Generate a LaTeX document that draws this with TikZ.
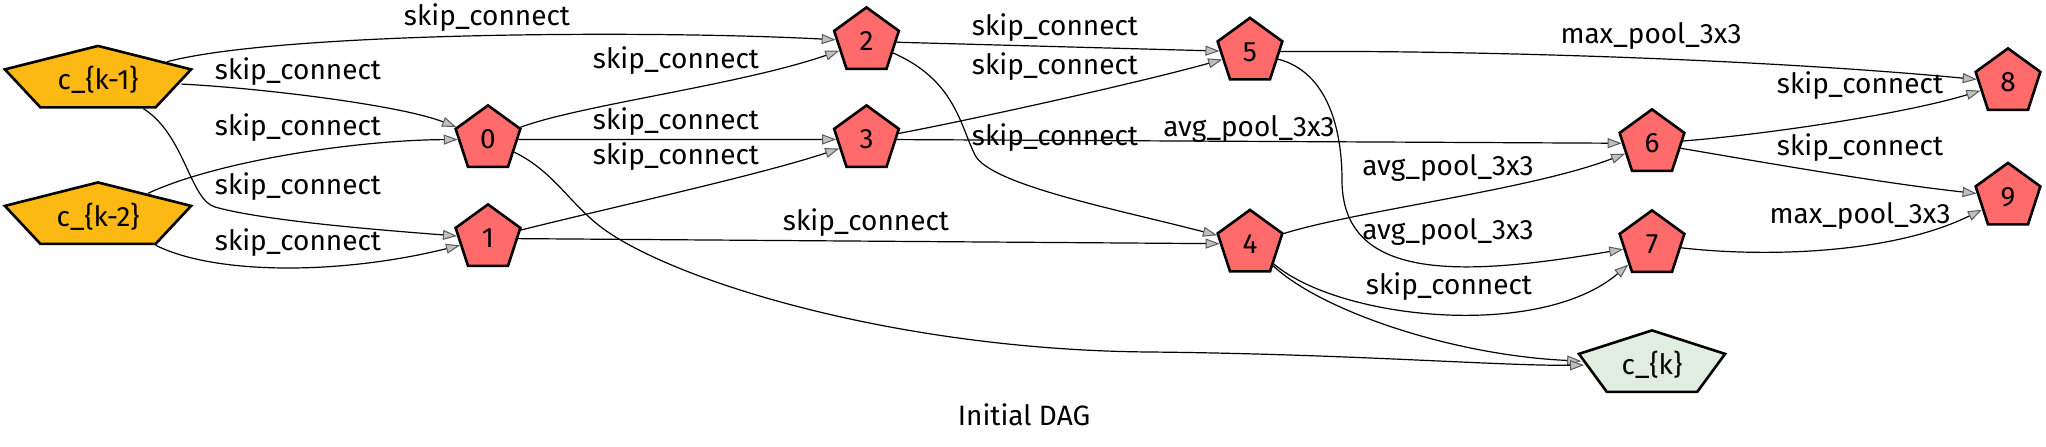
\documentclass[tikz,border=0pt]{standalone}
\usepackage{fontspec}
\setmainfont{Fira Sans}
\usepackage{graphicx}
\usetikzlibrary{shapes.geometric,arrows.meta}
\definecolor{opred}{RGB}{255,106,106}
\definecolor{inorange}{RGB}{253,185,19}
\definecolor{outgreen}{RGB}{224,238,224}
\definecolor{tipgray}{RGB}{192,192,192}
\begin{document}
\begin{tikzpicture}[x=0.5pt,y=-0.5pt,
  pent/.style={regular polygon, regular polygon sides=5, draw=black, line width=1.3pt, minimum size=34pt, inner sep=0pt, font=\fontsize{14}{16}\selectfont},
  opnode/.style={pent, fill=opred},
  innode/.style={pent, fill=inorange},
  outnode/.style={pent, fill=outgreen},
  conn/.style={draw=black, line width=0.6pt, -{Triangle[length=7pt,width=5pt,fill=tipgray,color=black!65,line width=0.5pt]}},
  lbl/.style={font=\fontsize{14}{16}\selectfont, inner sep=0pt},
]
\fill[white] (0,0) rectangle (2046,446);
\useasboundingbox (0,0) rectangle (2046,446);

% input nodes
\begin{scope}[shift={(98,79.9)}]
\node[innode, xscale=2.88, transform shape] (ck1) {\scalebox{0.347}[1]{c\_\{k-1\}}};
\end{scope}
\begin{scope}[shift={(98,216.4)}]
\node[innode, xscale=2.88, transform shape] (ck2) {\scalebox{0.347}[1]{c\_\{k-2\}}};
\end{scope}
\begin{scope}[shift={(1652,364.4)}]
\node[outnode, xscale=2.26, transform shape] (ck) {\scalebox{0.4425}[1]{c\_\{k\}}};
\end{scope}

% op nodes
\node[opnode] (n0) at (488,139.4) {0};
\node[opnode] (n1) at (488,238.4) {1};
\node[opnode] (n2) at (866.5,41.4) {2};
\node[opnode] (n3) at (866.5,139.4) {3};
\node[opnode] (n5) at (1250,51.9) {5};
\node[opnode] (n4) at (1250,243.9) {4};
\node[opnode] (n6) at (1652,143.4) {6};
\node[opnode] (n7) at (1652,244.4) {7};
\node[opnode] (n8) at (2008,82.4) {8};
\node[opnode] (n9) at (2008,196.9) {9};

% connectors
\draw[conn] (ck1) .. controls (280,32) and (650,30) .. (n2);
\draw[conn] (ck1) .. controls (260,88) and (400,105) .. (n0);
\draw[conn] (ck2) .. controls (220,160) and (360,140) .. (n0);
\draw[conn] (ck1) .. controls (185,135) and (190,200) .. (215,207) .. controls (265,221) and (380,230) .. (n1);
\draw[conn] (ck2) .. controls (215,275) and (340,275) .. (n1);
\draw[conn] (n0) .. controls (580,105) and (740,85) .. (n2);
\draw[conn] (n0) -- (n3);
\draw[conn] (n1) .. controls (600,210) and (760,175) .. (n3);
\draw[conn] (n2) -- (n5);
\draw[conn] (n3) .. controls (960,122) and (1130,85) .. (n5);
\draw[conn] (n2) .. controls (955,80) and (960,125) .. (975,155) .. controls (990,185) and (1120,210) .. (n4);
\draw[conn] (n3) -- (n6);
\draw[conn] (n5) .. controls (1450,50) and (1750,58) .. (n8);
\draw[conn] (n5) .. controls (1328,72) and (1342,130) .. (1342,180) .. controls (1342,285) and (1470,275) .. (n7);
\draw[conn] (n4) .. controls (1360,210) and (1530,190) .. (n6);
\draw[conn] (n4) .. controls (1340,320) and (1540,340) .. (n7);
\draw[conn] (n4) .. controls (1320,310) and (1450,355) .. (ck);
\draw[conn] (n0) .. controls (555,172) and (570,205) .. (605,230) .. controls (680,283) and (900,350) .. (1150,352) .. controls (1350,354) and (1500,366) .. (ck);
\draw[conn] (n1) -- (n4);
\draw[conn] (n6) .. controls (1760,135) and (1900,115) .. (n8);
\draw[conn] (n6) .. controls (1750,160) and (1880,183) .. (n9);
\draw[conn] (n7) .. controls (1760,257) and (1890,255) .. (n9);

% labels
\node[lbl] (la) at (487,18) {skip\_connect};
\node[lbl] (lb) at (298,72) {skip\_connect};
\node[lbl] (lc) at (298,128) {skip\_connect};
\node[lbl] (ld) at (298,187) {skip\_connect};
\node[lbl] (le) at (298,243) {skip\_connect};
\node[lbl] (lf) at (676,61) {skip\_connect};
\node[lbl] (lg) at (676,122) {skip\_connect};
\node[lbl] (lh) at (676,157) {skip\_connect};
\node[lbl] (li) at (1055,28) {skip\_connect};
\node[lbl] (lj) at (1055,67) {skip\_connect};
\node[lbl] (lk) at (1055,138) {skip\_connect};
\node[lbl] (ll) at (1249,129) {avg\_pool\_3x3};
\node[lbl] (lm) at (1651,36) {max\_pool\_3x3};
\node[lbl] (ln) at (1448,168) {avg\_pool\_3x3};
\node[lbl] (lo) at (1448,232) {avg\_pool\_3x3};
\node[lbl] (lp) at (1449,287) {skip\_connect};
\node[lbl] (lq) at (866,223) {skip\_connect};
\node[lbl] (lr) at (1860,86) {skip\_connect};
\node[lbl] (ls) at (1860,148) {skip\_connect};
\node[lbl] (lt) at (1860,216) {max\_pool\_3x3};
\node[lbl] (cap) at (1024,415) {Initial DAG};
\end{tikzpicture}
\end{document}
